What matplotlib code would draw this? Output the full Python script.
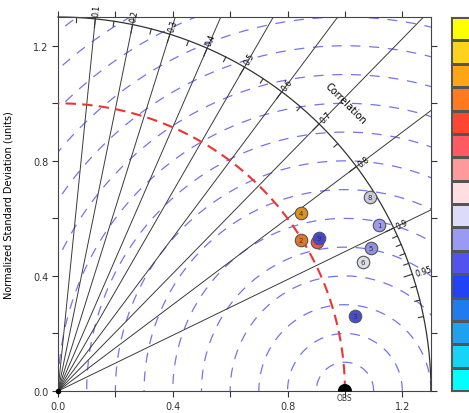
import numpy as np
import matplotlib
matplotlib.use("Agg")
from matplotlib import pyplot as plt
from matplotlib.patches import Wedge
from matplotlib.colors import ListedColormap

# model results: normalized standard deviation and correlation with OBS
labels = ["1", "2", "3", "4", "5", "6", "7", "8", "9"]
ratio = [1.259, 0.995, 1.067, 1.048, 1.199, 1.155, 1.040, 1.280, 1.053]
corr = [0.889, 0.850, 0.970, 0.807, 0.910, 0.921, 0.868, 0.850, 0.863]
colors = ["#9b9be8", "#e0782c", "#4a4ad8", "#dc931c", "#9191e2",
          "#dcdce6", "#ee5252", "#c9c9dd", "#4646d6"]

# correlation lines / labels
cc_lines = [0.1, 0.2, 0.3, 0.4, 0.5, 0.6, 0.7, 0.8, 0.9]
cc_labels = ["0.1", "0.2", "0.3", "0.4", "0.5", "0.6", "0.7", "0.8", "0.9", "0.95"]
cc_minor = [0.05, 0.15, 0.25, 0.35, 0.45, 0.55, 0.65, 0.75, 0.85,
            0.91, 0.92, 0.93, 0.94, 0.96, 0.97, 0.98]

# colorbar colours (labels fall outside the picture)
cbar_colors = ["#00ffff", "#16d4f6", "#1ea2f0", "#1f7bef", "#2243f5", "#5252f0",
               "#9a9af4", "#dcdcfa", "#ffdde0", "#ff9a9c", "#ff5a62", "#ff4632",
               "#ff7a1e", "#ffa516", "#ffd21e", "#ffff00"]

rmax = 1.3

fig = plt.figure(figsize=(4.69, 4.14), dpi=100)
ax = fig.add_axes([58/469, 22/414, 373/469, 374/414])
ax.set_xlim(0, rmax)
ax.set_ylim(0, rmax)

# RMS difference arcs around OBS
t = np.linspace(0, np.pi, 400)
for r in np.arange(0.1, 1.75, 0.1):
    ax.plot(1 + r*np.cos(t), r*np.sin(t), color="#7474ea", lw=0.9,
            dashes=(8, 7), zorder=1)

# radial correlation lines
for c in cc_lines:
    th = np.arccos(c)
    ax.plot([0, 2*np.cos(th)], [0, 2*np.sin(th)], color="#3a3a3a", lw=0.7, zorder=2)

# outer arc
q = np.linspace(0, np.pi/2, 300)
ax.plot(rmax*np.cos(q), rmax*np.sin(q), color="#333333", lw=0.9, zorder=2, clip_on=False)

# ticks on arc
for c in cc_minor:
    th = np.arccos(c)
    ax.plot([rmax*np.cos(th), (rmax-0.018)*np.cos(th)],
            [rmax*np.sin(th), (rmax-0.018)*np.sin(th)], color="#333333", lw=0.8, zorder=2)
for s in cc_labels:
    th = np.arccos(float(s))
    ax.plot([rmax*np.cos(th), (rmax-0.03)*np.cos(th)],
            [rmax*np.sin(th), (rmax-0.03)*np.sin(th)], color="#333333", lw=0.8, zorder=2)
    ax.text(1.312*np.cos(th), 1.312*np.sin(th), s, rotation=np.degrees(th),
            rotation_mode="anchor", ha="left", va="center", fontsize=5.5, clip_on=False)

ax.text(1.003, 1.003, "Correlation", rotation=-45, ha="center", va="center", fontsize=7)

# reference std arc
ax.plot(np.cos(q), np.sin(q), color="#ee3333", lw=1.5, dashes=(5, 3), zorder=3)

# OBS
ax.add_patch(Wedge((1.0, 0.0), 0.022, 0, 180, color="black", zorder=5, clip_on=False))
ax.text(1.0, -0.006, "OBS", ha="center", va="top", fontsize=5.5, color="#333333")
ax.plot([0], [0], "o", color="black", ms=3, zorder=4, clip_on=False)

# models (later ones drawn on top, so 9 hides most of 7 as in the original)
for i, (lab, r, c, col) in enumerate(zip(labels, ratio, corr, colors)):
    th = np.arccos(c)
    x, y = r*np.cos(th), r*np.sin(th)
    ax.plot(x, y, "o", ms=9, mfc=col, mec="#555555", mew=0.8, zorder=6 + 2*i)
    ax.text(x, y, lab, ha="center", va="center", fontsize=5, color="#333333",
            zorder=7 + 2*i)

ticks = np.arange(0, 1.21, 0.2)
tlabels = ["0.0", "", "0.4", "", "0.8", "", "1.2"]
ax.set_xticks(ticks)
ax.set_xticklabels(tlabels)
ax.set_yticks(ticks)
ax.set_yticklabels(tlabels)
ax.tick_params(direction="out", top=True, right=True, length=4, width=0.8,
               labelsize=7, colors="#333333", pad=3)
for sp in ax.spines.values():
    sp.set_color("#444444")
    sp.set_linewidth(0.8)
ax.set_ylabel("Normalized Standard Deviation (units)", fontsize=7, labelpad=14)

# colorbar strip (cut off by figure edge)
cax = fig.add_axes([451/469, 22/414, 0.08, 374/414])
vals = np.arange(len(cbar_colors)).reshape(-1, 1)
cax.pcolormesh(vals, cmap=ListedColormap(cbar_colors), edgecolors="#555555", linewidth=0.8)
cax.set_xticks([])
cax.set_yticks([])
for sp in cax.spines.values():
    sp.set_color("#555555")

fig.savefig("out.png", dpi=100)
